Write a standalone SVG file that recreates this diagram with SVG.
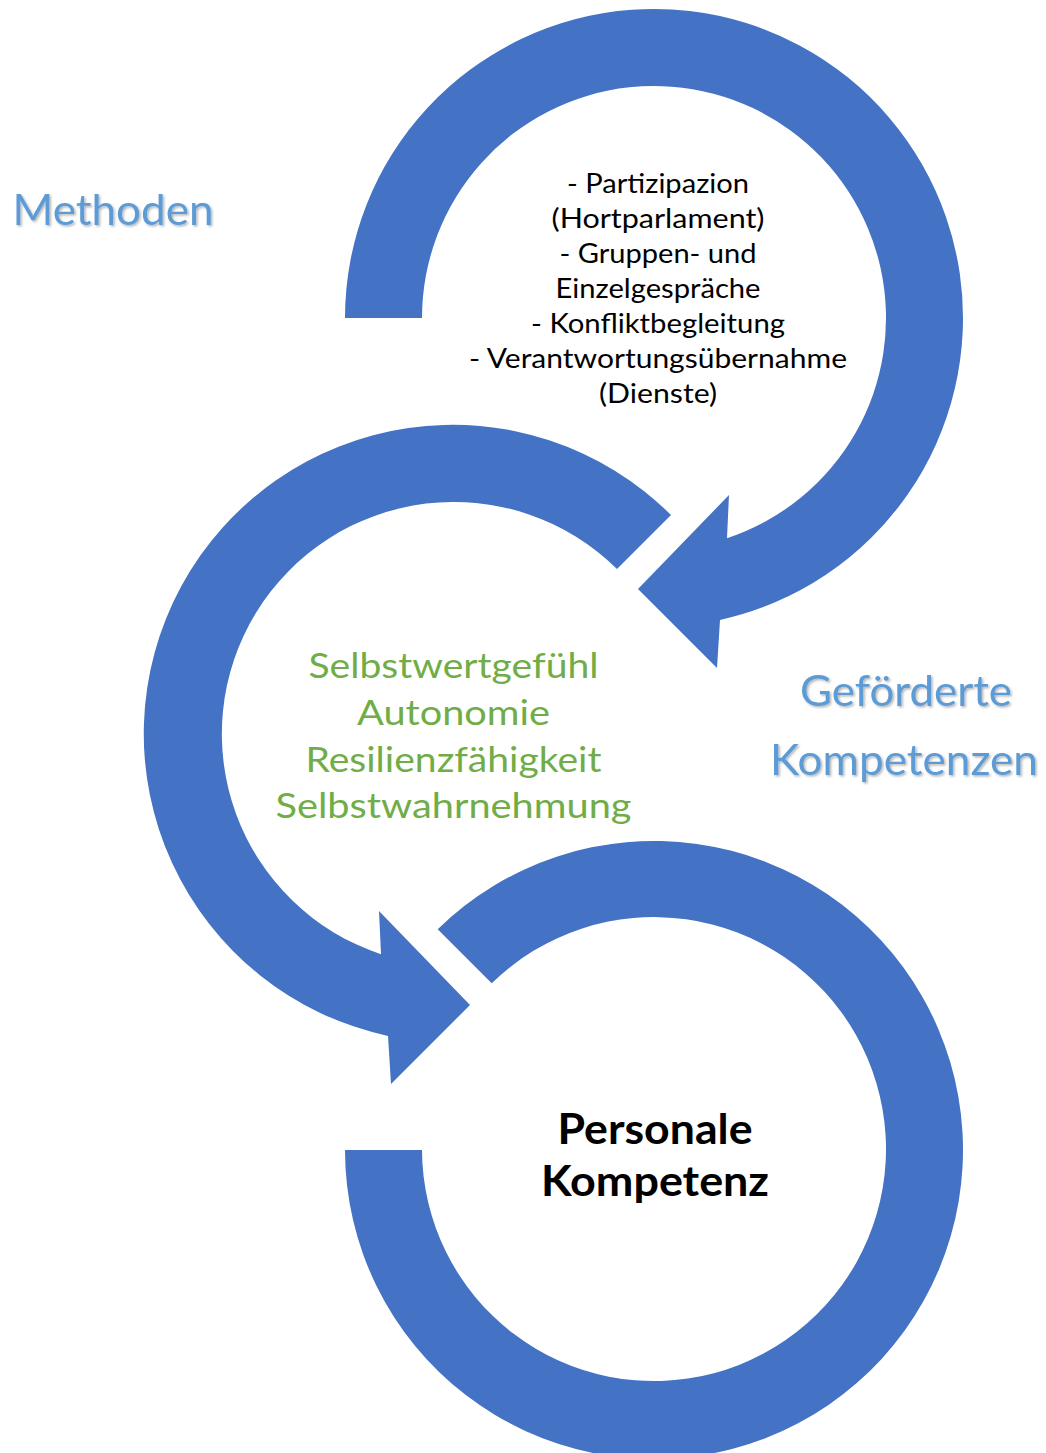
<svg xmlns="http://www.w3.org/2000/svg" width="1046" height="1453" viewBox="0 0 1046 1453">
  <defs>
    <filter id="softShadow" x="-10%" y="-20%" width="120%" height="150%">
      <feDropShadow dx="1.5" dy="1.5" stdDeviation="1" flood-color="#000" flood-opacity="0.3"/>
    </filter>
  </defs>
  <style>
    .arrow { fill: #4472C4; }
    .body { font-family: Lato, "Open Sans", "Noto Sans", sans-serif; fill: #000; font-size: 27px; text-anchor: middle; }
    .green { font-family: Lato, "Open Sans", "Noto Sans", sans-serif; fill: #70AD47; font-size: 34px; text-anchor: middle; }
    .title { font-family: Lato, "Open Sans", "Noto Sans", sans-serif; fill: #000; font-size: 42px; font-weight: bold; text-anchor: middle; }
    .label { font-family: Lato, "Open Sans", "Noto Sans", sans-serif; fill: #5B9BD5; font-size: 42px; text-anchor: middle; filter: url(#softShadow); }
  </style>
  <rect width="1046" height="1453" fill="#fff"/>

  <!-- circular arrows -->
  <g id="connectors">
    <!-- upper arrow: clockwise from the left, head pointing down-left -->
    <path id="arrow-methoden" class="arrow" d="M345,318 A309,309 0 1 1 720,619.9 L717,668 L638,589 L729,495 L727,538.2 A232,232 0 1 0 422,318 Z"/>
    <!-- middle arrow: counter-clockwise from upper right, head pointing down-right -->
    <path id="arrow-kompetenzen" class="arrow" d="M671,515 A309,309 0 1 0 388,1035.9 L391,1084 L470,1005 L379,911 L381,954.2 A232,232 0 1 1 617,569 Z"/>
    <!-- lower arrow: clockwise from upper left, open end at the left -->
    <path id="arrow-personal" class="arrow" d="M437.7,929.3 A309,309 0 1 1 345,1150 L422,1150 A232,232 0 1 0 491.7,983.3 Z"/>
  </g>

  <!-- methods inside the upper circle -->
  <g id="node-methoden-liste">
    <text class="body" x="658" y="193" textLength="182" lengthAdjust="spacingAndGlyphs">- Partizipazion</text>
    <text class="body" x="658" y="228" textLength="213" lengthAdjust="spacingAndGlyphs">(Hortparlament)</text>
    <text class="body" x="658" y="263" textLength="197" lengthAdjust="spacingAndGlyphs">- Gruppen- und</text>
    <text class="body" x="658" y="298" textLength="205" lengthAdjust="spacingAndGlyphs">Einzelgespräche</text>
    <text class="body" x="658" y="333" textLength="254" lengthAdjust="spacingAndGlyphs">- Konfliktbegleitung</text>
    <text class="body" x="658" y="368" textLength="378" lengthAdjust="spacingAndGlyphs">- Verantwortungsübernahme</text>
    <text class="body" x="658" y="403" textLength="118" lengthAdjust="spacingAndGlyphs">(Dienste)</text>
  </g>

  <!-- competences inside the middle circle -->
  <g id="node-kompetenzen-liste">
    <text class="green" x="453.5" y="678" textLength="290" lengthAdjust="spacingAndGlyphs">Selbstwertgefühl</text>
    <text class="green" x="453.5" y="725" textLength="193" lengthAdjust="spacingAndGlyphs">Autonomie</text>
    <text class="green" x="453.5" y="772" textLength="296" lengthAdjust="spacingAndGlyphs">Resilienzfähigkeit</text>
    <text class="green" x="453.5" y="818" textLength="356" lengthAdjust="spacingAndGlyphs">Selbstwahrnehmung</text>
  </g>

  <!-- centre of the lower circle -->
  <g id="node-personale-kompetenz">
    <text class="title" x="655" y="1144" textLength="195" lengthAdjust="spacingAndGlyphs">Personale</text>
    <text class="title" x="655" y="1196" textLength="228" lengthAdjust="spacingAndGlyphs">Kompetenz</text>
  </g>

  <!-- side labels -->
  <g id="node-methoden">
    <text class="label" x="113" y="225" textLength="201" lengthAdjust="spacingAndGlyphs">Methoden</text>
  </g>
  <g id="node-gefoerderte-kompetenzen">
    <text class="label" x="906" y="706" textLength="212" lengthAdjust="spacingAndGlyphs">Geförderte</text>
    <text class="label" x="904" y="775" textLength="268" lengthAdjust="spacingAndGlyphs">Kompetenzen</text>
  </g>
</svg>
